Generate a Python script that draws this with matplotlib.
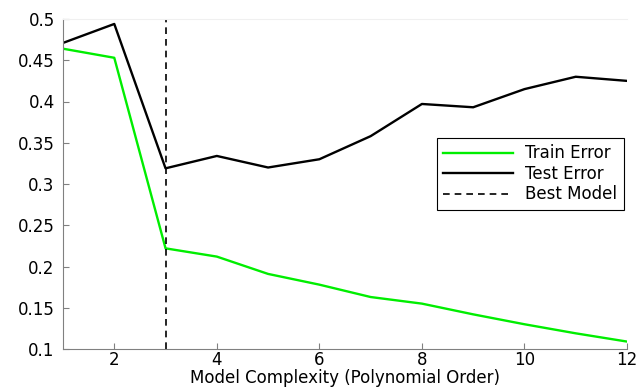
import numpy as np
import matplotlib
matplotlib.use("Agg")
import matplotlib.pyplot as plt

orders = [1, 2, 3, 4, 5, 6, 7, 8, 9, 10, 11, 12]
train_error = [0.464, 0.453, 0.222, 0.212, 0.191, 0.178, 0.163, 0.155, 0.142, 0.130, 0.119, 0.109]
test_error = [0.471, 0.494, 0.319, 0.334, 0.320, 0.330, 0.358, 0.397, 0.393, 0.415, 0.430, 0.425]
best_order = 3

plt.rcParams['font.family'] = ['DejaVu Sans']

fig = plt.figure(figsize=(6.42, 3.87), dpi=100)
ax = fig.add_axes([63 / 642, 1 - 349 / 387, (627 - 63) / 642, (349 - 19) / 387])

ax.plot(orders, train_error, color='#00ee00', linewidth=1.7, label='Train Error')
ax.plot(orders, test_error, color='black', linewidth=1.7, label='Test Error')
ax.plot([best_order, best_order], [0.1, 0.5], color='black', linestyle='--',
        linewidth=1.2, dashes=(4, 3), label='Best Model')

ax.set_xlim(1, 12)
ax.set_ylim(0.1, 0.5)
ax.set_xticks([2, 4, 6, 8, 10, 12])
ax.set_yticks([0.1, 0.15, 0.2, 0.25, 0.3, 0.35, 0.4, 0.45, 0.5])
ax.set_yticklabels(['0.1', '0.15', '0.2', '0.25', '0.3', '0.35', '0.4', '0.45', '0.5'])
ax.tick_params(direction='in', length=4, color='#808080', labelsize=12, pad=6)
ax.tick_params(axis='x', pad=1.5)
ax.spines['right'].set_visible(False)
ax.spines['top'].set_color('#f0f0f0')
ax.spines['left'].set_color('#808080')
ax.spines['bottom'].set_color('#808080')
ax.set_xlabel('Model Complexity (Polynomial Order)', fontsize=12, labelpad=0)

leg = ax.legend(loc='upper right', bbox_to_anchor=(0.997, 0.645), fontsize=12,
                handlelength=4.2, fancybox=False, framealpha=1, borderpad=0.4,
                labelspacing=0.15, handletextpad=0.7, borderaxespad=0.1)
leg.get_frame().set_edgecolor('black')
leg.get_frame().set_linewidth(0.8)

fig.savefig('out.png', dpi=100)
